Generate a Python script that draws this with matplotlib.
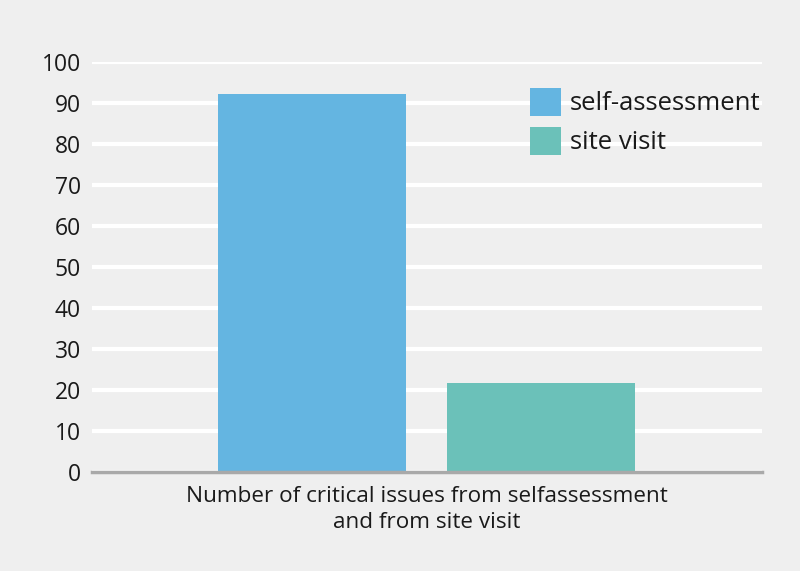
import matplotlib.pyplot as plt
from matplotlib.patches import Patch

plt.rcParams['font.family'] = ['Open Sans', 'DejaVu Sans']

series = ['self-assessment', 'site visit']
values = [92.3, 21.6]
colors = ['#64b5e1', '#6bc1b9']
yticks = [0, 10, 20, 30, 40, 50, 60, 70, 80, 90, 100]
xlabel = 'Number of critical issues from selfassessment\nand from site visit'

bg = '#efefef'
txt = '#1a1a1a'

fig = plt.figure(figsize=(8, 5.71), dpi=100, facecolor=bg)
ax = fig.add_axes([0.115, 0.1734, 0.8375, 0.718], facecolor=bg)

ax.bar(range(len(values)), values, width=0.82, color=colors, zorder=3)

ax.set_xlim(-0.96, 1.965)
ax.set_ylim(0, 100)
ax.set_yticks(yticks)
ax.set_xticks([])
ax.yaxis.grid(True, color='white', linewidth=3, zorder=0)
ax.tick_params(axis='y', length=0, pad=8, labelsize=16.5, labelcolor=txt)

for side in ['top', 'right', 'left']:
    ax.spines[side].set_visible(False)
ax.spines['bottom'].set_color('#a9a9a9')
ax.spines['bottom'].set_linewidth(2.5)
ax.spines['bottom'].set_zorder(4)

ax.set_xlabel(xlabel, fontsize=16.2, color=txt, labelpad=10, linespacing=1.35)

handles = [Patch(facecolor=c, label=s) for c, s in zip(colors, series)]
ax.legend(handles=handles, loc='upper right', bbox_to_anchor=(1.013, 0.962),
          frameon=False, fontsize=18.5, handlelength=1.2, handleheight=1.3,
          handletextpad=0.35, labelspacing=0.4, borderaxespad=0,
          labelcolor=txt)

fig.savefig('out.png', dpi=100, facecolor=bg)
